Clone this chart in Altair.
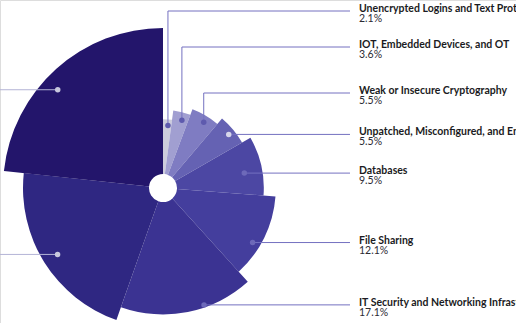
import math
import altair as alt
import pandas as pd

# ---------------- data ----------------
categories = [
    "Unencrypted Logins and Text Protocols",
    "IOT, Embedded Devices, and OT",
    "Weak or Insecure Cryptography",
    "Unpatched, Misconfigured, and End-of-Life Systems",
    "Databases",
    "File Sharing",
    "IT Security and Networking Infrastructure",
    "Remote Access",
    "Web Applications",
]
shares = [2.1, 3.6, 5.5, 5.5, 9.5, 12.1, 17.1, 21.3, 23.3]
# relative outer extent of each slice (largest = 100)
reach = [43, 48.8, 52.5, 57, 63, 70.5, 79, 87.5, 100]
labeled = [True, True, True, True, True, True, True, False, False]

# ---------------- styling / layout ----------------
W, H = 516, 323
CX, CY = 163, 188
R_MAX = 160
HOLE = 14
slice_colors = ["#cdcddc", "#a19fd1", "#7f7cc2", "#6562b3", "#4c47a3",
                "#443e9d", "#3b3392", "#2f2782", "#23156b"]
dot_colors = ["#5e5aae", "#5e5aae", "#5e5aae", "#d6d6ea", "#6d69b9",
              "#6d69b9", "#6d69b9", "#c8c8de", "#c8c8de"]
# where each leader dot sits inside its slice: fraction of the slice's sweep,
# and fraction of its outer radius
dot_turn = [0.6, 0.62, 0.57, 0.53, 0.57, 0.62, 0.37, 0.5, 0.44]
dot_depth = [0.91, 0.9, 0.92, 0.93, 0.82, 0.93, 0.98, 0.89, 0.9]
elbow_rows = {0: 11, 1: 47, 2: 93}
LINE_END = 350
TEXT_X = 359

df = pd.DataFrame({"idx": list(range(len(categories))), "category": categories,
                   "share": shares, "reach": reach})

total = sum(shares)
cum = 0.0
dots, segs, texts = [], [], []
for i, (c, s, r) in enumerate(zip(categories, shares, reach)):
    ang = (cum + s * dot_turn[i]) / total * 2 * math.pi
    cum += s
    rp = r / 100 * R_MAX * dot_depth[i]
    dx = CX + rp * math.sin(ang)
    dy = CY - rp * math.cos(ang)
    dots.append({"x": dx, "y": dy, "col": dot_colors[i]})
    if labeled[i]:
        ry = elbow_rows.get(i, dy)
        if i in elbow_rows:
            segs.append({"x": dx, "y": dy, "x2": dx, "y2": ry, "col": "#7471c0"})
        segs.append({"x": dx, "y": ry, "x2": LINE_END, "y2": ry, "col": "#7471c0"})
        texts.append({"x": TEXT_X, "y": ry + 1, "t": c, "p": f"{s}%"})
    else:
        segs.append({"x": 0, "y": dy, "x2": dx, "y2": dy, "col": "#b4b4d6"})

dots_df = pd.DataFrame(dots)
segs_df = pd.DataFrame(segs)
texts_df = pd.DataFrame(texts)

arcs = alt.Chart(df).transform_window(
    end="sum(share)", sort=[alt.SortField("idx")], frame=[None, 0]
).transform_calculate(
    start="datum.end - datum.share"
).mark_arc(innerRadius=HOLE).encode(
    theta=alt.Theta("start:Q", stack=False,
                    scale=alt.Scale(domain=[0, total], range=[0, 2 * math.pi])),
    theta2="end:Q",
    radius=alt.Radius("reach:Q", stack=False,
                      scale=alt.Scale(type="linear", domain=[0, 100], range=[0, R_MAX])),
    fill=alt.Fill("category:N", scale=alt.Scale(domain=categories, range=slice_colors), legend=None),
    x=alt.value(CX),
    y=alt.value(CY),
)

px = lambda f: alt.X(f"{f}:Q", scale=None, axis=None)
py = lambda f: alt.Y(f"{f}:Q", scale=None, axis=None)

lines = alt.Chart(segs_df).mark_rule(strokeWidth=1).encode(
    x=px("x"), y=py("y"), x2="x2:Q", y2="y2:Q",
    stroke=alt.Stroke("col:N", scale=None),
)

points = alt.Chart(dots_df).mark_circle(size=30, opacity=1).encode(
    x=px("x"), y=py("y"), color=alt.Color("col:N", scale=None),
)

names = alt.Chart(texts_df).mark_text(
    align="left", baseline="alphabetic", font="Lato", fontWeight="bold",
    fontSize=10.5, color="#1b1b22",
).encode(x=px("x"), y=py("y"), text="t:N")

pcts = alt.Chart(texts_df).mark_text(
    align="left", baseline="alphabetic", font="Lato", fontSize=10.5,
    color="#2b2b33", dy=10,
).encode(x=px("x"), y=py("y"), text="p:N")

chart = alt.layer(arcs, lines, points, names, pcts).resolve_scale(
    color="independent", fill="independent", stroke="independent",
    x="independent", y="independent",
).properties(
    width=W, height=H,
    autosize=alt.AutoSizeParams(type="none"),
    padding=0,
).configure_view(stroke=None).configure(background="white")

chart.save("out.html", embed_options={"renderer": "svg", "actions": False})
